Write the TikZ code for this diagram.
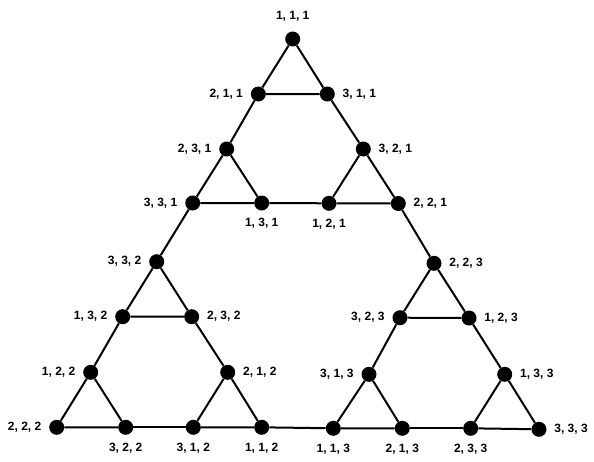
\documentclass[tikz,border=0pt]{standalone}
\usepackage{fontspec}
\setmainfont{Liberation Sans}
\usepackage{tikz}

\begin{document}
\begin{tikzpicture}[x=1pt,y=1pt]
\tikzstyle{every node}+=[inner sep=0pt]
\tikzstyle{dot}=[circle,fill=black,minimum size=15pt]
\tikzstyle{lbl}=[font=\fontsize{12}{14}\selectfont\bfseries,inner sep=0pt]
\tikzset{every label/.style={lbl}, label distance=7.5pt}
\useasboundingbox (0,0) rectangle (594,-461);
% top part
\node [dot,label={[label distance=10pt]above:{1, 1, 1}}] (q111) at (292.7,-39) {};
\node [dot,label=left:{2, 1, 1}] (q211) at (258.3,-94) {};
\node [dot,label=right:{3, 1, 1}] (q311) at (327.3,-94) {};
\node [dot,label=left:{2, 3, 1}] (q231) at (226.7,-149) {};
\node [dot,label=right:{3, 2, 1}] (q321) at (363.3,-149) {};
\node [dot,label=left:{3, 3, 1}] (q331) at (192.7,-203) {};
\node [dot,label=below:{1, 3, 1}] (q131) at (261.7,-203) {};
\node [dot,label=below:{1, 2, 1}] (q121) at (329,-203.3) {};
\node [dot,label=right:{2, 2, 1}] (q221) at (398.3,-203.5) {};
% left part
\node [dot,label=left:{3, 3, 2}] (q332) at (156.7,-261.7) {};
\node [dot,label=left:{1, 3, 2}] (q132) at (122.7,-316.7) {};
\node [dot,label=right:{2, 3, 2}] (q232) at (191.7,-316.7) {};
\node [dot,label=left:{1, 2, 2}] (q122) at (90.7,-372.3) {};
\node [dot,label=right:{2, 1, 2}] (q212) at (227.7,-372.3) {};
\node [dot,label=left:{2, 2, 2}] (q222) at (56.7,-427.3) {};
\node [dot,label=below:{3, 2, 2}] (q322) at (125.7,-427.3) {};
\node [dot,label=below:{3, 1, 2}] (q312) at (193.3,-427.3) {};
\node [dot,label=below:{1, 1, 2}] (q112) at (261.7,-427.3) {};
% right part
\node [dot,label=right:{2, 2, 3}] (q223) at (434,-263.3) {};
\node [dot,label=left:{3, 2, 3}] (q323) at (400,-317.7) {};
\node [dot,label=right:{1, 2, 3}] (q123) at (469,-318) {};
\node [dot,label=left:{3, 1, 3}] (q313) at (369,-374.3) {};
\node [dot,label=right:{1, 3, 3}] (q133) at (504.7,-374.3) {};
\node [dot,label=below:{1, 1, 3}] (q113) at (333.3,-428.3) {};
\node [dot,label=below:{2, 1, 3}] (q213) at (402.3,-428.3) {};
\node [dot,label=below:{2, 3, 3}] (q233) at (470.7,-428.3) {};
\node [dot,label=right:{3, 3, 3}] (q333) at (539,-429.3) {};
% edges
\begin{scope}[line width=2pt]
\draw (q111) -- (q211) -- (q311) -- (q111);
\draw (q211) -- (q231);
\draw (q311) -- (q321);
\draw (q231) -- (q331) -- (q131) -- (q231);
\draw (q321) -- (q121) -- (q221) -- (q321);
\draw (q131) -- (q121);
\draw (q331) -- (q332);
\draw (q221) -- (q223);
\draw (q332) -- (q132) -- (q232) -- (q332);
\draw (q223) -- (q323) -- (q123) -- (q223);
\draw (q132) -- (q122);
\draw (q232) -- (q212);
\draw (q323) -- (q313);
\draw (q123) -- (q133);
\draw (q122) -- (q222) -- (q322) -- (q122);
\draw (q212) -- (q312) -- (q112) -- (q212);
\draw (q313) -- (q113) -- (q213) -- (q313);
\draw (q133) -- (q233) -- (q333) -- (q133);
\draw (q322) -- (q312);
\draw (q112) -- (q113);
\draw (q213) -- (q233);
\end{scope}
\end{tikzpicture}
\end{document}
